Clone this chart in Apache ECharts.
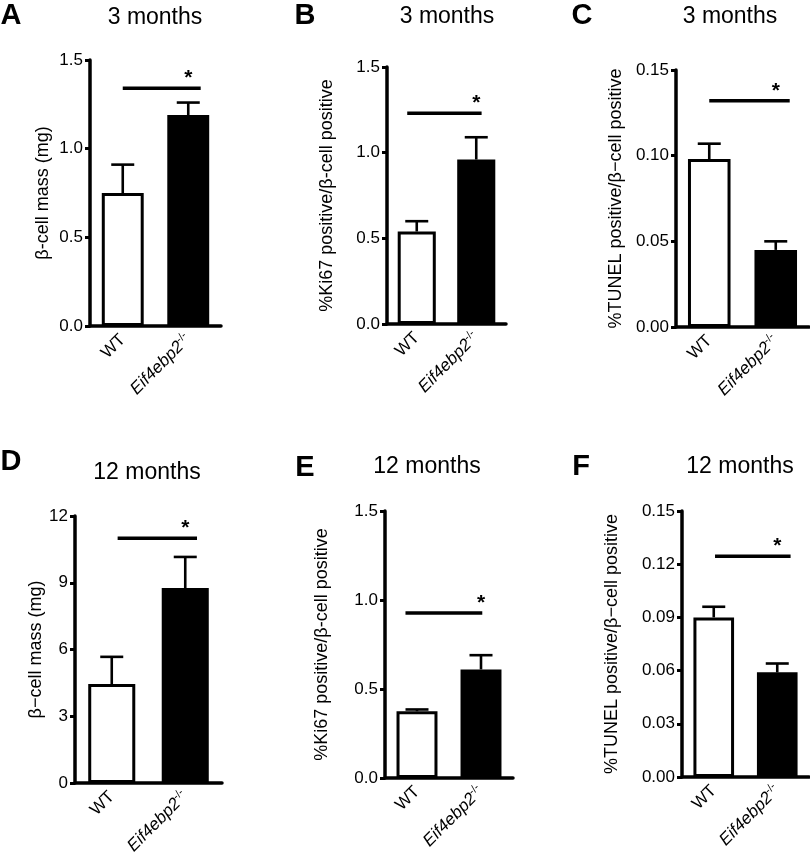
<!DOCTYPE html>
<html><head><meta charset="utf-8">
<script src="https://cdn.jsdelivr.net/npm/echarts@6/dist/echarts.min.js"></script>
<style>html,body{margin:0;padding:0;background:#fff}#c{width:810px;height:864px}</style>
</head><body><div id="c"></div>
<script>
// ---------- data ----------
const categories = ['WT', 'Eif4ebp2-/-'];
const panelLetters = ['A', 'B', 'C', 'D', 'E', 'F'];
const panelTitles = ['3 months', '3 months', '3 months', '12 months', '12 months', '12 months'];
const yAxisNames = [
  'β-cell mass (mg)',
  '%Ki67 positive/β-cell positive',
  '%TUNEL positive/β−cell positive',
  'β−cell mass (mg)',
  '%Ki67 positive/β-cell positive',
  '%TUNEL positive/β−cell positive'
];
const yMax = [1.5, 1.5, 0.15, 12, 1.5, 0.15];
const yInterval = [0.5, 0.5, 0.05, 3, 0.5, 0.03];
const yDecimals = [1, 1, 2, 0, 1, 2];

// A: beta-cell mass, 3 months
const massMean3m = [0.75, 1.19];
const massSem3m = [0.16, 0.07];
const massSig3m = 1.34;
// B: Ki67, 3 months
const ki67Mean3m = [0.54, 0.96];
const ki67Sem3m = [0.06, 0.13];
const ki67Sig3m = 1.23;
// C: TUNEL, 3 months
const tunelMean3m = [0.098, 0.045];
const tunelSem3m = [0.009, 0.005];
const tunelSig3m = 0.132;
// D: beta-cell mass, 12 months
const massMean12m = [4.45, 8.76];
const massSem12m = [1.22, 1.40];
const massSig12m = 11.0;
// E: Ki67, 12 months
const ki67Mean12m = [0.375, 0.61];
const ki67Sem12m = [0.01, 0.08];
const ki67Sig12m = 0.927;
// F: TUNEL, 12 months
const tunelMean12m = [0.090, 0.059];
const tunelSem12m = [0.006, 0.005];
const tunelSig12m = 0.1245;

const means = [massMean3m, ki67Mean3m, tunelMean3m, massMean12m, ki67Mean12m, tunelMean12m];
const sems = [massSem3m, ki67Sem3m, tunelSem3m, massSem12m, ki67Sem12m, tunelSem12m];
const sigs = [massSig3m, ki67Sig3m, tunelSig3m, massSig12m, ki67Sig12m, tunelSig12m];

// ---------- layout ----------
const grids = [
  { left: 90, top: 60, width: 131, height: 266 },
  { left: 387, top: 67, width: 119, height: 257 },
  { left: 676, top: 70, width: 133, height: 257 },
  { left: 75, top: 516, width: 147, height: 267 },
  { left: 385, top: 511, width: 128, height: 267 },
  { left: 682, top: 511, width: 127, height: 266 }
];
const nameGaps = [38, 51, 51, 25, 54, 61];
// significance bar span, in units of category spacing from the WT centre
const sigSpan = [[0, 1.19], [-0.16, 1.09], [0, 1.21], [0.08, 1.16], [-0.18, 1.02], [0.02, 1.21]];
const letterPos = [[11, 16], [305, 16], [582, 16], [11, 462], [305, 468], [581, 467]];
const titlePos = [[155, 18], [447, 17], [730, 17], [147, 473], [427, 467], [740, 467]];

const FONT = '"Liberation Sans", Arial, Helvetica, sans-serif';

const xAxis = [], yAxis = [], series = [], graphic = [];
grids.forEach((g, i) => {
  xAxis.push({
    type: 'category', gridIndex: i, data: categories,
    axisLine: { lineStyle: { color: '#000', width: 3.5 } },
    axisTick: { alignWithLabel: true, length: 7, lineStyle: { color: '#000', width: 3 } },
    axisLabel: {
      rotate: 45, margin: 11, color: '#000', fontSize: 17, fontFamily: FONT,
      formatter: v => v === 'WT' ? '{n|WT}' : '{i|Eif4ebp2}{s|-/-}',
      rich: {
        n: { fontSize: 17, fontFamily: FONT, color: '#000' },
        i: { fontSize: 17, fontFamily: FONT, fontStyle: 'italic', color: '#000' },
        s: { fontSize: 11, fontFamily: FONT, color: '#000', padding: [0, 0, 9, 0] }
      }
    }
  });
  yAxis.push({
    type: 'value', gridIndex: i, min: 0, max: yMax[i], interval: yInterval[i],
    name: yAxisNames[i], nameLocation: 'middle', nameGap: nameGaps[i],
    nameTextStyle: { fontSize: 18, fontFamily: FONT, color: '#000' },
    axisLine: { show: true, lineStyle: { color: '#000', width: 3.5 } },
    axisTick: { show: true, length: 5, lineStyle: { color: '#000', width: 3 } },
    axisLabel: {
      color: '#000', fontSize: 17, fontFamily: FONT, margin: 7,
      formatter: v => Number(v).toFixed(yDecimals[i])
    },
    splitLine: { show: false }
  });
  series.push({
    type: 'bar', xAxisIndex: i, yAxisIndex: i, barWidth: '64%',
    data: means[i].map((v, k) => ({
      value: v,
      itemStyle: { color: k === 0 ? '#fff' : '#000', borderColor: '#000', borderWidth: 3 }
    })),
    z: 2
  });
  series.push({
    type: 'custom', xAxisIndex: i, yAxisIndex: i, clip: false, z: 3,
    data: means[i].map((v, k) => [k, v, sems[i][k]]),
    encode: { x: 0, y: 1 },
    renderItem: (params, api) => {
      const k = api.value(0), m = api.value(1), s = api.value(2);
      const p0 = api.coord([k, m]);
      const p1 = api.coord([k, m + s]);
      const half = 11.5;
      const st = { stroke: '#000', lineWidth: 2.6 };
      return {
        type: 'group', children: [
          { type: 'line', shape: { x1: p0[0], y1: p0[1], x2: p1[0], y2: p1[1] }, style: st },
          { type: 'line', shape: { x1: p1[0] - half, y1: p1[1], x2: p1[0] + half, y2: p1[1] }, style: st }
        ]
      };
    }
  });
  series.push({
    type: 'custom', xAxisIndex: i, yAxisIndex: i, clip: false, z: 3,
    data: [[0, sigs[i]]],
    encode: { x: 0, y: 1 },
    renderItem: (params, api) => {
      const y = api.value(1);
      const a = api.coord([0, y]);
      const b = api.coord([1, y]);
      const d = b[0] - a[0];
      const x1 = a[0] + sigSpan[i][0] * d;
      const x2 = a[0] + sigSpan[i][1] * d;
      return {
        type: 'group', children: [
          { type: 'line', shape: { x1: x1, y1: a[1], x2: x2, y2: a[1] }, style: { stroke: '#000', lineWidth: 3.5 } },
          { type: 'text', x: b[0], y: a[1] - 10, style: { text: '*', fill: '#000', font: 'bold 21px ' + FONT, textAlign: 'center', textVerticalAlign: 'middle' } }
        ]
      };
    }
  });
  graphic.push({
    type: 'text', x: letterPos[i][0], y: letterPos[i][1],
    style: { text: panelLetters[i], fill: '#000', font: 'bold 29px ' + FONT, textAlign: 'center', textVerticalAlign: 'middle' }
  });
  graphic.push({
    type: 'text', x: titlePos[i][0], y: titlePos[i][1],
    style: { text: panelTitles[i], fill: '#000', font: '23px ' + FONT, textAlign: 'center', textVerticalAlign: 'middle' }
  });
});

const chart = echarts.init(document.getElementById('c'), null, { renderer: 'canvas' });
chart.setOption({
  backgroundColor: '#fff',
  animation: false,
  grid: grids.map(g => Object.assign({ containLabel: false }, g)),
  xAxis, yAxis, series, graphic
});
</script>
</body></html>
